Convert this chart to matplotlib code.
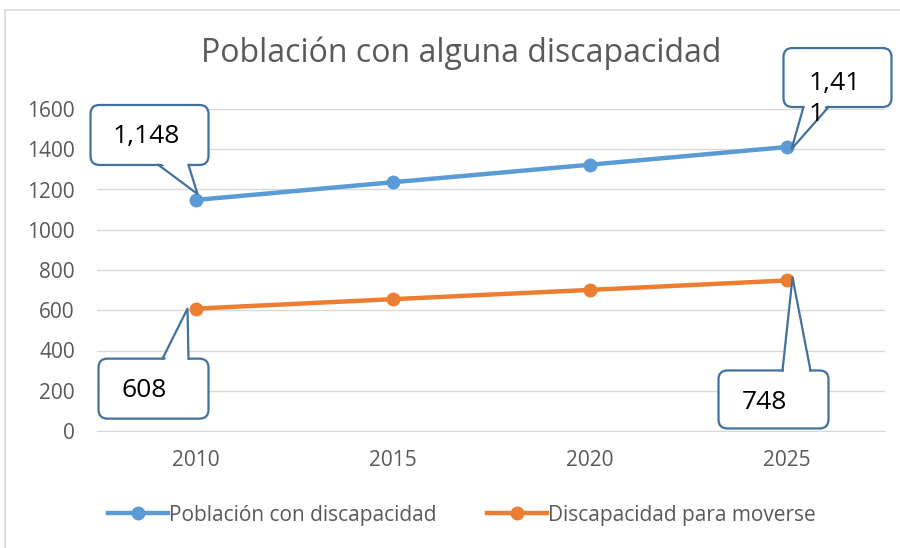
import matplotlib.pyplot as plt
import matplotlib.transforms as mtransforms
from matplotlib.patches import FancyBboxPatch, Polygon, Rectangle
from matplotlib.lines import Line2D

plt.rcParams['font.family'] = ['Open Sans', 'DejaVu Sans']

# Data
years = ['2010', '2015', '2020', '2025']
poblacion = [1148, 1236, 1323, 1411]
moverse = [608, 655, 701, 748]
yticks = [0, 200, 400, 600, 800, 1000, 1200, 1400, 1600]

blue = '#5b9bd5'
orange = '#ed7d31'
grey_txt = '#595959'
grid_c = '#d9d9d9'
callout_c = '#41719c'

fig = plt.figure(figsize=(9, 5.48), dpi=100)
ax = fig.add_axes([97 / 900, 117 / 548, 788 / 900, 322 / 548])

x = range(len(years))
ax.plot(x, poblacion, '-o', color=blue, lw=3.2, ms=9, zorder=3,
        label='Población con discapacidad')
ax.plot(x, moverse, '-o', color=orange, lw=3.2, ms=9, zorder=3,
        label='Discapacidad para moverse')

ax.set_xlim(-0.5, len(years) - 0.5)
ax.set_ylim(0, 1600)
ax.set_xticks(list(x))
ax.set_xticklabels(years)
ax.set_yticks(yticks)
ax.tick_params(length=0, labelsize=15, colors=grey_txt)
ax.tick_params(axis='x', pad=14)
ax.tick_params(axis='y', pad=16)
ax.grid(axis='y', color=grid_c, lw=1)
ax.set_axisbelow(True)
for s in ['top', 'right', 'left']:
    ax.spines[s].set_visible(False)
ax.spines['bottom'].set_color(grid_c)


def callout(xi, yi, text, box, base, tip, txy, ha='center'):
    # box = (x0, x1, y0, y1) pixel offsets from the point, y up
    tr = mtransforms.ScaledTranslation(xi, yi, ax.transData)
    x0, x1, y0, y1 = box
    rect = FancyBboxPatch((x0, y0), x1 - x0, y1 - y0,
                          boxstyle='round,pad=0,rounding_size=9',
                          fc='white', ec=callout_c, lw=1.6,
                          transform=tr, zorder=5, clip_on=False)
    ax.add_patch(rect)
    (bx0, bx1, by) = base
    inset = 3 if by == y0 else -3
    fill = Polygon([(bx0 + 1, by + inset), (bx1 - 1, by + inset), tip],
                   closed=True, fc='white', ec='none',
                   transform=tr, zorder=6, clip_on=False)
    ax.add_patch(fill)
    ax.add_line(Line2D([bx0, tip[0], bx1], [by, tip[1], by],
                       color=callout_c, lw=1.6, transform=tr,
                       zorder=7, clip_on=False))
    ax.text(txy[0], txy[1], text, transform=tr, fontsize=19,
            ha=ha, va='center', color='black', zorder=8,
            linespacing=1.3, multialignment='left')


callout(0, poblacion[0], '1,148', (-105, 13, 35, 95), (-37, -7, 35), (2, 6),
        (-49, 63))
callout(3, poblacion[3], '1,41\n1', (-3, 105, 40, 99), (17, 42, 40), (5, -2),
        (22, 48), ha='left')
callout(0, moverse[0], '608', (-97, 13, -110, -50), (-33, -7, -50), (-8, 0),
        (-51, -82))
callout(3, moverse[3], '748', (-68, 42, -148, -90), (-4, 24, -90), (6, 3),
        (-22, -122))

fig.text(461 / 900, 1 - 53 / 548, 'Población con alguna discapacidad',
         fontsize=23, color=grey_txt, ha='center', va='center')

ax.legend(loc='center', bbox_to_anchor=(462 / 900, 1 - 515 / 548),
          bbox_transform=fig.transFigure, ncol=2, frameon=False,
          fontsize=15, labelcolor=grey_txt, handlelength=2.9,
          handletextpad=0.05, columnspacing=2.4)

fig.patches.append(Rectangle((5 / 900, -0.1), 1.2, 0.1 + (548 - 10) / 548,
                             transform=fig.transFigure, fill=False,
                             ec=grid_c, lw=1.2))

fig.savefig('out.png', dpi=100)
